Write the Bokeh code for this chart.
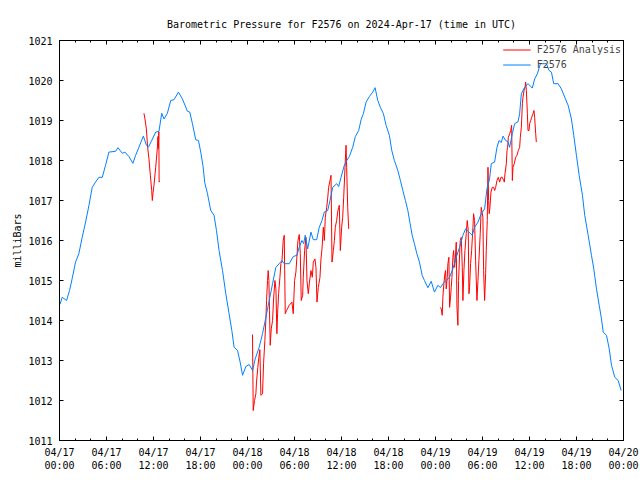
import numpy as np
from bokeh.plotting import figure
from bokeh.models import FixedTicker, LinearAxis, Range1d, Legend, LegendItem
from bokeh.embed import file_html
from bokeh.resources import INLINE

title_text = "Barometric Pressure for F2576 on 2024-Apr-17 (time in UTC)"
y_label = "milliBars"

# x values are hours since 2024-04-17 00:00 UTC
tick_hours = [0, 6, 12, 18, 24, 30, 36, 42, 48, 54, 60, 66, 72]
tick_labels = ["04/17\n00:00", "04/17\n06:00", "04/17\n12:00", "04/17\n18:00",
               "04/18\n00:00", "04/18\n06:00", "04/18\n12:00", "04/18\n18:00",
               "04/19\n00:00", "04/19\n06:00", "04/19\n12:00", "04/19\n18:00",
               "04/20\n00:00"]
minor_hours = list(range(0, 73, 2))
y_ticks = list(range(1011, 1022))

f2576_hours = [0.05, 0.35, 0.9, 1.28, 1.62, 2.05, 2.47, 2.9, 3.33, 3.75, 4.18, 4.6, 5.03, 5.46, 5.88,
               6.31, 7.16, 7.46, 8.02, 8.35, 8.86, 9.37, 9.72, 10.14, 10.7, 11.09, 11.34, 11.77, 12.28,
               12.7, 13.05, 13.34, 13.77, 14.2, 14.62, 15.18, 15.69, 16.33, 16.63, 16.97, 17.39, 17.74,
               18.03, 18.33, 18.54, 18.89, 19.31, 19.73, 20.04, 20.37, 20.81, 21.23, 21.65, 22.0, 22.29,
               22.73, 23.06, 23.37, 23.79, 24.21, 24.65, 24.98, 25.49, 25.92, 26.35, 26.77, 27.2, 27.62,
               28.05, 28.39, 28.69, 29.33, 29.84, 30.31, 30.6, 30.95, 31.17, 31.37, 31.68, 32.1, 32.4,
               32.83, 33.16, 33.51, 33.8, 34.24, 34.53, 34.88, 35.39, 35.64, 35.94, 36.36, 36.67, 37.0,
               37.43, 37.77, 38.2, 38.5, 38.79, 39.14, 39.56, 39.99, 40.29, 40.63, 40.96, 41.35, 41.69,
               42.11, 42.42, 42.75, 43.19, 43.52, 43.83, 44.16, 44.47, 44.76, 45.02, 45.31, 45.62, 45.95,
               46.3, 46.59, 47.03, 47.45, 47.87, 48.3, 48.64, 48.94, 49.37, 49.79, 50.22, 50.65, 51.07,
               51.5, 51.84, 52.27, 52.69, 52.99, 53.42, 53.84, 54.27, 54.57, 54.9, 55.12, 55.54, 55.85,
               56.11, 56.4, 56.62, 56.95, 57.26, 57.46, 57.81, 58.1, 58.54, 58.74, 58.96, 59.38, 59.81,
               60.36, 60.66, 61.01, 61.39, 62.16, 62.5, 62.8, 63.09, 63.65, 64.07, 64.5, 64.93, 65.35,
               65.65, 65.99, 66.34, 66.76, 67.05, 67.49, 67.91, 68.21, 68.55, 68.9, 69.19, 69.41, 69.83,
               70.18, 70.47, 70.89, 71.32, 71.7]
f2576_mbar = [1014.40, 1014.58, 1014.50, 1014.75, 1015.05, 1015.46, 1015.67, 1016.08, 1016.46, 1016.87,
              1017.33, 1017.46, 1017.58, 1017.58, 1017.88, 1018.21, 1018.23, 1018.32, 1018.18, 1018.21,
              1018.10, 1017.93, 1018.13, 1018.33, 1018.61, 1018.39, 1018.33, 1018.50, 1018.71, 1018.73,
              1019.18, 1019.04, 1019.18, 1019.50, 1019.52, 1019.71, 1019.54, 1019.23, 1019.21, 1018.92,
              1018.52, 1018.50, 1018.21, 1017.85, 1017.45, 1017.17, 1016.75, 1016.63, 1016.25, 1015.75,
              1015.25, 1014.67, 1014.17, 1013.75, 1013.33, 1013.25, 1012.96, 1012.63, 1012.85, 1012.90,
              1012.75, 1013.04, 1013.33, 1013.67, 1014.08, 1014.50, 1014.92, 1015.33, 1015.42, 1015.50,
              1015.42, 1015.42, 1015.60, 1015.63, 1015.83, 1016.00, 1015.92, 1016.13, 1015.79, 1016.21,
              1016.02, 1016.02, 1016.33, 1016.50, 1016.71, 1016.75, 1017.00, 1017.33, 1017.42, 1017.35,
              1017.58, 1017.88, 1018.00, 1018.10, 1018.33, 1018.60, 1018.75, 1019.02, 1019.17, 1019.46,
              1019.60, 1019.71, 1019.82, 1019.50, 1019.33, 1019.17, 1018.88, 1018.63, 1018.25, 1018.00,
              1017.75, 1017.50, 1017.25, 1017.00, 1016.75, 1016.42, 1016.13, 1015.92, 1015.67, 1015.46,
              1015.13, 1015.00, 1014.82, 1014.98, 1014.71, 1014.88, 1014.82, 1014.92, 1015.00, 1015.08,
              1015.29, 1015.58, 1015.83, 1016.13, 1016.29, 1016.21, 1016.13, 1016.33, 1016.46, 1016.67,
              1016.79, 1017.29, 1017.54, 1017.92, 1017.96, 1018.33, 1018.50, 1018.45, 1018.61, 1018.50,
              1018.47, 1018.33, 1018.67, 1018.92, 1018.97, 1019.17, 1019.67, 1019.83, 1019.92, 1019.81,
              1020.04, 1020.17, 1020.42, 1020.42, 1020.25, 1020.21, 1019.92, 1019.92, 1019.79, 1019.58,
              1019.38, 1019.04, 1018.63, 1018.13, 1017.63, 1017.13, 1016.63, 1016.13, 1015.63, 1015.29,
              1014.79, 1014.38, 1014.04, 1013.71, 1013.63, 1013.29, 1012.88, 1012.58, 1012.50, 1012.25]

analysis1_hours = [10.78, 10.91, 11.09, 11.25, 11.42, 11.6, 11.77, 11.85, 11.93, 12.06, 12.28, 12.5,
                   12.57, 12.62, 12.68, 12.72, 12.78]
analysis1_mbar = [1019.18, 1019.04, 1018.79, 1018.33, 1018.04, 1017.63, 1017.25, 1017.00, 1017.17,
                  1017.38, 1017.83, 1018.33, 1018.60, 1018.30, 1018.72, 1017.46, 1017.48]

analysis2_hours = [24.64, 24.73, 24.90, 25.07, 25.15, 25.32, 25.45, 25.58, 25.71, 25.92, 26.05, 26.22,
                   26.35, 26.43, 26.56, 26.64, 26.73, 26.81, 26.90, 27.03, 27.20, 27.33, 27.50, 27.63,
                   27.75, 27.84, 27.97, 28.14, 28.26, 28.39, 28.56, 28.69, 28.82, 28.99, 29.33, 29.67,
                   29.84, 30.01, 30.18, 30.44, 30.61, 30.74, 30.86, 31.04, 31.12, 31.29, 31.46, 31.59,
                   31.76, 31.89, 32.10, 32.27, 32.40, 32.61, 32.74, 32.87, 33.04, 33.25, 33.38, 33.51,
                   33.68, 33.81, 33.93, 34.11, 34.23, 34.36, 34.53, 34.66, 34.79, 34.96, 35.09, 35.21,
                   35.38, 35.51, 35.64, 35.72, 35.85, 36.02, 36.15, 36.28, 36.45, 36.58, 36.66, 36.79,
                   36.92]
analysis2_mbar = [1013.65, 1011.75, 1012.00, 1012.17, 1012.46, 1012.83, 1013.08, 1013.27, 1012.13,
                  1012.17, 1012.92, 1013.50, 1014.04, 1014.50, 1015.00, 1015.25, 1015.00, 1014.25,
                  1013.38, 1013.79, 1014.00, 1014.54, 1015.00, 1014.79, 1013.67, 1014.17, 1014.67,
                  1015.08, 1015.42, 1015.46, 1016.00, 1016.13, 1014.17, 1014.25, 1014.38, 1014.46,
                  1014.17, 1015.00, 1015.21, 1016.00, 1016.15, 1015.67, 1014.50, 1014.63, 1015.08,
                  1015.75, 1016.08, 1015.00, 1014.67, 1014.92, 1015.25, 1015.08, 1015.46, 1015.54,
                  1015.33, 1014.46, 1014.83, 1015.08, 1015.54, 1015.79, 1016.33, 1016.00, 1016.58,
                  1016.83, 1017.04, 1017.33, 1017.50, 1017.63, 1015.46, 1015.75, 1016.00, 1016.33,
                  1016.50, 1016.71, 1016.83, 1016.88, 1015.75, 1016.33, 1016.58, 1017.08, 1017.83,
                  1018.38, 1017.83, 1016.83, 1016.29]

analysis3_hours = [48.60, 48.73, 48.86, 48.94, 49.07, 49.20, 49.28, 49.37, 49.50, 49.58, 49.71, 49.80,
                   49.92, 50.01, 50.10, 50.22, 50.31, 50.44, 50.52, 50.65, 50.74, 50.86, 50.95, 51.08,
                   51.16, 51.29, 51.42, 51.50, 51.63, 51.76, 51.92, 52.05, 52.18, 52.27, 52.35, 52.48,
                   52.61, 52.78, 52.86, 52.99, 53.12, 53.29, 53.42, 53.54, 53.71, 53.84, 54.05, 54.14,
                   54.27, 54.40, 54.48, 54.61, 54.70, 54.78, 54.86, 54.95, 55.08, 55.25, 55.42, 55.55,
                   55.68, 55.85, 56.02, 56.19, 56.36, 56.53, 56.70, 56.79, 56.87, 57.04, 57.13, 57.21,
                   57.30, 57.47, 57.60, 57.72, 57.81, 57.89, 58.06, 58.23, 58.40, 58.57, 58.74, 58.83,
                   58.96, 59.09, 59.17, 59.30, 59.43, 59.51, 59.60, 59.73, 59.81, 59.94, 60.02, 60.15,
                   60.28, 60.45, 60.57, 60.66, 60.79, 60.87]
analysis3_mbar = [1014.33, 1014.29, 1014.13, 1014.58, 1014.92, 1015.17, 1015.25, 1014.79, 1015.08,
                  1015.42, 1015.58, 1014.33, 1014.58, 1014.83, 1015.08, 1015.58, 1015.75, 1015.33,
                  1015.50, 1015.96, 1014.33, 1013.88, 1015.00, 1015.67, 1016.00, 1016.08, 1015.33,
                  1014.50, 1015.25, 1015.75, 1016.17, 1016.50, 1016.25, 1014.67, 1014.83, 1015.42,
                  1015.75, 1016.33, 1016.67, 1016.50, 1015.50, 1014.50, 1015.00, 1015.50, 1016.17,
                  1016.83, 1016.58, 1015.25, 1014.50, 1015.17, 1015.75, 1016.50, 1017.83, 1017.00,
                  1016.67, 1016.83, 1017.21, 1017.33, 1017.33, 1017.25, 1017.33, 1017.50, 1017.58,
                  1017.46, 1017.58, 1017.58, 1017.50, 1017.46, 1017.67, 1017.92, 1018.25, 1018.33,
                  1018.58, 1018.67, 1018.75, 1018.88, 1017.50, 1017.83, 1017.92, 1018.08, 1018.13,
                  1018.25, 1018.33, 1018.58, 1018.83, 1019.42, 1019.58, 1019.75, 1019.83, 1019.96,
                  1019.75, 1019.17, 1018.75, 1018.75, 1018.92, 1019.00, 1019.08, 1019.17, 1019.25,
                  1019.08, 1018.67, 1018.46]

FONT = "DejaVu Sans Mono"
RED = "#ff0000"
BLUE = "#0080ff"

# join analysis segments with gaps
analysis_hours = np.concatenate([analysis1_hours, [np.nan], analysis2_hours, [np.nan], analysis3_hours])
analysis_mbar = np.concatenate([analysis1_mbar, [np.nan], analysis2_mbar, [np.nan], analysis3_mbar])

p = figure(width=640, height=480, x_range=Range1d(0, 72), y_range=Range1d(1011, 1021),
           output_backend="svg", toolbar_location=None, title=title_text,
           min_border_left=59, min_border_right=17, min_border_top=40, min_border_bottom=40)

p.title.text_font = FONT
p.title.text_font_size = "10px"
p.title.text_font_style = "normal"
p.title.align = "center"
p.title.text_color = "black"
p.title.standoff = 22

p.xgrid.grid_line_color = None
p.ygrid.grid_line_color = None
p.outline_line_color = "black"
p.outline_line_width = 1
p.background_fill_color = "white"
p.border_fill_color = "white"

xt = FixedTicker(ticks=tick_hours, minor_ticks=minor_hours)
yt = FixedTicker(ticks=y_ticks, minor_ticks=[])

xa = p.xaxis[0]
xa.ticker = xt
xa.major_label_overrides = {h: lab for h, lab in zip(tick_hours, tick_labels)}
ya = p.yaxis[0]
ya.ticker = yt
ya.axis_label = y_label

for ax in (xa, ya):
    ax.major_tick_in = 4
    ax.major_tick_out = 0
    ax.minor_tick_in = 2
    ax.minor_tick_out = 0
    ax.axis_line_color = "black"
    ax.major_tick_line_color = "black"
    ax.minor_tick_line_color = "black"
    ax.major_label_text_font = FONT
    ax.major_label_text_font_size = "10px"
    ax.major_label_text_color = "black"
    ax.axis_label_text_font = FONT
    ax.axis_label_text_font_size = "10px"
    ax.axis_label_text_font_style = "normal"
    ax.axis_label_text_color = "black"

xa.major_label_standoff = 6
ya.major_label_standoff = 7
ya.axis_label_standoff = 2

# mirrored tick marks on top and right (no labels drawn)
top = LinearAxis(ticker=xt, major_tick_in=4, major_tick_out=0, minor_tick_in=2, minor_tick_out=0,
                 major_label_text_font_size="0px", major_label_text_color=None,
                 major_label_standoff=0)
right = LinearAxis(ticker=yt, major_tick_in=4, major_tick_out=0, minor_tick_in=0, minor_tick_out=0,
                   major_label_text_font_size="0px", major_label_text_color=None,
                   major_label_standoff=0)
p.add_layout(top, "above")
p.add_layout(right, "right")

r_red = p.line(analysis_hours, analysis_mbar, line_color=RED, line_width=1)
r_blue = p.line(f2576_hours, f2576_mbar, line_color=BLUE, line_width=1)

legend = Legend(items=[LegendItem(label="F2576 Analysis", renderers=[r_red]),
                       LegendItem(label="F2576", renderers=[r_blue])],
                location="top_right", border_line_color=None, background_fill_alpha=0,
                label_text_font=FONT, label_text_font_size="10px", glyph_width=28,
                glyph_height=15, label_height=15, spacing=0, padding=1, margin=2,
                label_standoff=6)
p.add_layout(legend)

open("out.html", "w").write(file_html(p, INLINE))
